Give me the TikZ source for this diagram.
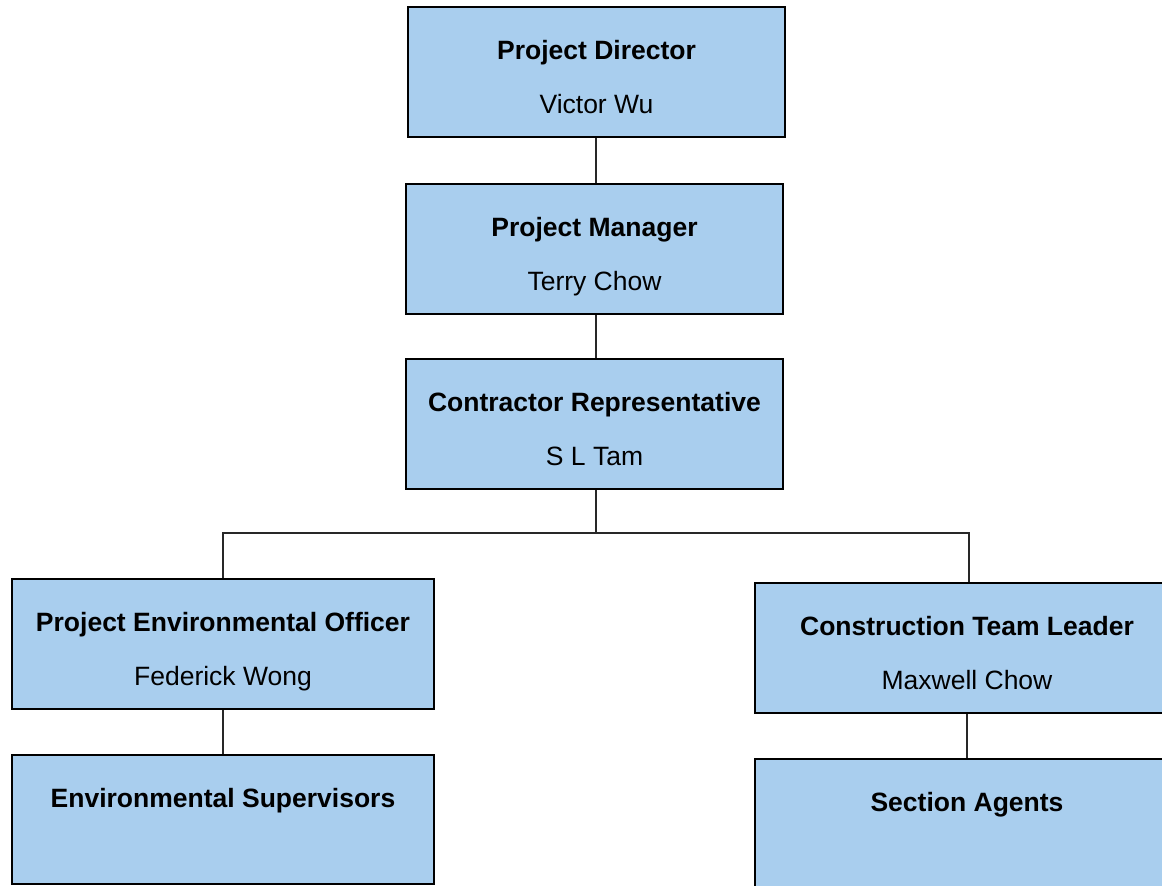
\documentclass[tikz,border=0pt]{standalone}
\usepackage{fontspec}
\setmainfont{Liberation Sans}
\definecolor{boxblue}{RGB}{169,206,238}
\definecolor{linegray}{RGB}{40,40,40}
\begin{document}
\begin{tikzpicture}[x=1pt,y=-1pt,
  orgbox/.style={draw=black,line width=1.8pt,fill=boxblue,rectangle,inner sep=0pt},
  ttl/.style={anchor=base,font=\fontsize{26.5}{32}\selectfont\bfseries,inner sep=0pt},
  nm/.style={anchor=base,font=\fontsize{26.5}{32}\selectfont,inner sep=0pt},
  conn/.style={draw=linegray,line width=1.1pt}]
\useasboundingbox (0,0) rectangle (1162,886);
\clip (0,0) rectangle (1162,886);
\fill[white] (0,0) rectangle (1162,886);
% boxes
\node[orgbox,minimum width=377pt,minimum height=130pt] (pd) at (596.5,72) {};
\node[orgbox,minimum width=377pt,minimum height=130pt] (pm) at (594.5,249) {};
\node[orgbox,minimum width=377pt,minimum height=130pt] (cr) at (594.5,424) {};
\node[orgbox,minimum width=422pt,minimum height=130pt] (peo) at (223,644) {};
\node[orgbox,minimum width=422pt,minimum height=129pt] (es) at (223,819.5) {};
\node[orgbox,minimum width=424pt,minimum height=130pt] (ctl) at (967,648) {};
\node[orgbox,minimum width=424pt,minimum height=130pt] (sa) at (967,824) {};
% texts
\node[ttl] (pdt) at ([yshift=-53pt]pd.north) {Project Director};
\node[nm]  (pdn) at ([yshift=-107pt]pd.north) {Victor Wu};
\node[ttl] (pmt) at ([yshift=-53pt]pm.north) {Project Manager};
\node[nm]  (pmn) at ([yshift=-107pt]pm.north) {Terry Chow};
\node[ttl] (crt) at ([yshift=-53pt]cr.north) {Contractor Representative};
\node[nm]  (crn) at ([yshift=-107pt]cr.north) {S L Tam};
\node[ttl] (peot) at ([yshift=-53pt]peo.north) {Project Environmental Officer};
\node[nm]  (peon) at ([yshift=-107pt]peo.north) {Federick Wong};
\node[ttl] (est) at ([yshift=-53pt]es.north) {Environmental Supervisors};
\node[ttl] (ctlt) at ([yshift=-53pt]ctl.north) {Construction Team Leader};
\node[nm]  (ctln) at ([yshift=-107pt]ctl.north) {Maxwell Chow};
\node[ttl] (sat) at ([yshift=-53pt]sa.north) {Section Agents};
% connectors
\draw[conn] (pd.south -| 596,0) -- (pm.north -| 596,0);
\draw[conn] (pm.south -| 596,0) -- (cr.north -| 596,0);
\coordinate (j) at (596,533);
\draw[conn] (cr.south -| j) -- (j);
\draw[conn] (peo.north) |- (j);
\draw[conn] (j) -| ([xshift=2pt]ctl.north);
\draw[conn] (peo.south) -- (es.north);
\draw[conn] (ctl.south) -- (sa.north);
\end{tikzpicture}
\end{document}
